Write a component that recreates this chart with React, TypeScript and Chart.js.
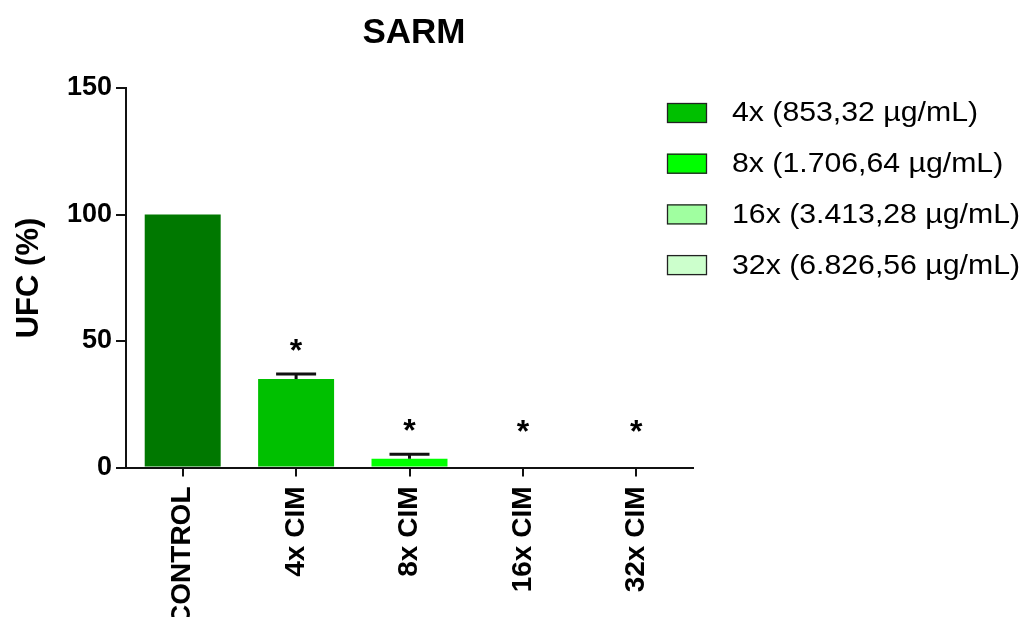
import { useEffect, useRef } from 'react';
import { Chart, registerables } from 'chart.js';

Chart.register(...registerables);

// Colony counts (UFC %) relative to the untreated control
const categories = ['CONTROL', '4x CIM', '8x CIM', '16x CIM', '32x CIM'];
const ufcValues = [100, 35, 3.5, 0, 0];
const ufcErrors = [0, 2, 1.7, 0, 0];
const significant = [false, true, true, true, true];
const barColors = ['#007800', '#00C000', '#00FF00', '#A0FFA0', '#CCFFCC'];

const legendLabels = [
  '4x (853,32 µg/mL)',
  '8x (1.706,64 µg/mL)',
  '16x (3.413,28 µg/mL)',
  '32x (6.826,56 µg/mL)',
];
const legendColors = ['#00C000', '#00FF00', '#A0FFA0', '#CCFFCC'];

const yTicks = [0, 50, 100, 150];

const chartTitle = 'SARM';
const yTitle = 'UFC (%)';

const FONT = "Arial, 'Liberation Sans', Helvetica, sans-serif";
const W = 1011;
const H = 609;

export default function App() {
  const ref = useRef<HTMLCanvasElement>(null);

  useEffect(() => {
    if (!ref.current) return;

    const extras = {
      id: 'sarmExtras',
      afterDatasetsDraw(chart: any) {
        const { ctx } = chart;
        const x = chart.scales.x;
        const y = chart.scales.y;
        ctx.save();
        // upward SEM bars with caps
        ctx.strokeStyle = '#111';
        ctx.lineWidth = 3;
        ufcValues.forEach((v, i) => {
          const e = ufcErrors[i];
          if (!e) return;
          const cx = x.getPixelForValue(i);
          const y0 = y.getPixelForValue(v);
          const y1 = y.getPixelForValue(v + e);
          ctx.beginPath();
          ctx.moveTo(cx, y0);
          ctx.lineTo(cx, y1);
          ctx.moveTo(cx - 20, y1);
          ctx.lineTo(cx + 20, y1);
          ctx.stroke();
        });
        // significance markers
        ctx.fillStyle = '#000';
        ctx.font = `bold 32px ${FONT}`;
        ctx.textAlign = 'center';
        ctx.textBaseline = 'alphabetic';
        ufcValues.forEach((v, i) => {
          if (!significant[i]) return;
          const top = Math.max(v + ufcErrors[i], 5);
          const cy = y.getPixelForValue(top) - 31;
          ctx.fillText('*', x.getPixelForValue(i), cy + 18);
        });
        ctx.restore();
      },
      afterDraw(chart: any) {
        const { ctx } = chart;
        ctx.save();
        ctx.fillStyle = '#000';
        // chart title
        ctx.font = `bold 35px ${FONT}`;
        ctx.textAlign = 'center';
        ctx.textBaseline = 'middle';
        ctx.fillText(chartTitle, 406, 25);
        // y axis title
        ctx.save();
        ctx.translate(21, 270);
        ctx.rotate(-Math.PI / 2);
        ctx.font = `bold 31px ${FONT}`;
        ctx.fillText(yTitle, 0, 0);
        ctx.restore();
        // legend
        legendLabels.forEach((label, i) => {
          const cy = 105 + i * 50.7;
          ctx.fillStyle = legendColors[i];
          ctx.fillRect(659, cy - 10, 40, 20);
          ctx.strokeStyle = '#222';
          ctx.lineWidth = 1.3;
          ctx.strokeRect(659.5, cy - 9.5, 39, 19);
          ctx.fillStyle = '#000';
          ctx.font = `27px ${FONT}`;
          ctx.textAlign = 'left';
          ctx.textBaseline = 'middle';
          ctx.save();
          ctx.translate(724, cy + 1);
          ctx.scale(1.12, 1);
          ctx.fillText(label, 0, 0);
          ctx.restore();
        });
        ctx.restore();
      },
    };

    const chart = new Chart(ref.current, {
      type: 'bar',
      data: {
        labels: categories,
        datasets: [
          {
            label: 'UFC (%)',
            data: ufcValues,
            backgroundColor: barColors,
            borderWidth: 0,
            barPercentage: 0.67,
            categoryPercentage: 1,
          },
        ],
      },
      options: {
        responsive: false,
        animation: false,
        devicePixelRatio: 1,
        layout: { padding: { top: 80, right: W - 685, left: 0, bottom: 0 } },
        plugins: {
          legend: { display: false },
          title: { display: false },
          tooltip: { enabled: false },
        },
        scales: {
          x: {
            afterFit: (s: any) => {
              s.height = H - 459.5;
            },
            grid: {
              display: true,
              drawOnChartArea: false,
              drawTicks: true,
              tickLength: 9,
              offset: false,
              color: '#111',
              lineWidth: 2,
            },
            border: { display: true, color: '#111', width: 2 },
            ticks: {
              minRotation: 90,
              maxRotation: 90,
              autoSkip: false,
              padding: 10,
              color: '#000',
              font: { family: FONT, size: 28, weight: 'bold' },
            },
          },
          y: {
            min: 0,
            max: 150,
            afterFit: (s: any) => {
              s.width = 118;
            },
            afterBuildTicks: (s: any) => {
              s.ticks = yTicks.map((v) => ({ value: v }));
            },
            grid: {
              display: true,
              drawOnChartArea: false,
              drawTicks: true,
              tickLength: 10,
              color: '#111',
              lineWidth: 2,
            },
            border: { display: true, color: '#111', width: 2 },
            ticks: {
              padding: 4,
              color: '#000',
              font: { family: FONT, size: 27, weight: 'bold' },
            },
          },
        },
      },
      plugins: [extras],
    });

    return () => chart.destroy();
  }, []);

  return (
    <div style={{ width: W, height: H }}>
      <canvas ref={ref} width={W} height={H} style={{ display: 'block' }} />
    </div>
  );
}
